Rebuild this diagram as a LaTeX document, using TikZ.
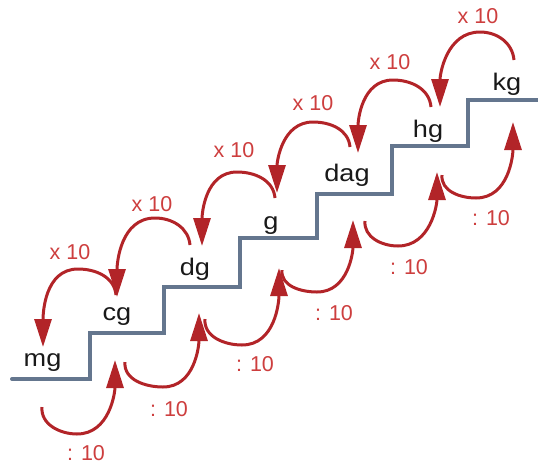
\documentclass[tikz,border=0pt]{standalone}
\usepackage{fontspec}
\setmainfont{Liberation Sans}
\usetikzlibrary{arrows.meta}
\definecolor{arcred}{RGB}{178,36,40}
\definecolor{txtred}{RGB}{205,62,62}
\definecolor{stairc}{RGB}{100,118,142}
\definecolor{unitc}{RGB}{25,25,25}
\tikzset{
  stairline/.style={draw=stairc,line width=4pt,line cap=round,line join=miter},
  unitlab/.style={anchor=base,inner sep=0pt,text=unitc,font=\fontsize{24}{24}\selectfont},
  redlab/.style={inner sep=0pt,text=txtred,font=\fontsize{21.5}{21.5}\selectfont},
  convarc/.style={draw=arcred,line width=3pt,-{Triangle[length=28pt,width=17pt]}}
}
\begin{document}
\begin{tikzpicture}[x=1pt,y=-1pt]
\useasboundingbox (0,0) rectangle (538,464);
% staircase
\draw[stairline] (12,379) -- (90,379) -- (90,333) -- (164,333) -- (164,287)
  -- (240,287) -- (240,238) -- (317,238) -- (317,194) -- (392,194)
  -- (392,146) -- (468,146) -- (468,100) -- (538,100);
% unit labels
\node[unitlab] (mg)  at (42.5,366) {\scalebox{1.13}[1]{mg}};
\node[unitlab] (cg)  at (117,320)  {\scalebox{1.13}[1]{cg}};
\node[unitlab] (dg)  at (195,275)  {\scalebox{1.13}[1]{dg}};
\node[unitlab] (g)   at (271,229)  {\scalebox{1.13}[1]{g}};
\node[unitlab] (dag) at (347,181)  {\scalebox{1.13}[1]{dag}};
\node[unitlab] (hg)  at (428,137)  {\scalebox{1.13}[1]{hg}};
\node[unitlab] (kg)  at (507,90)   {\scalebox{1.13}[1]{kg}};
% upper arcs: x 10
\foreach \sx/\sy/\mx/\my/\tx/\ty/\lx/\ly [count=\i] in {
  116/295/78/269/43/347/70/252,
  190/245/155/218/117/297/152/204,
  275/198/237/172/202/246/234/150,
  350/147/313/122/277/193/313/103,
  431/107/393/80/358/153/390/62,
  514/60/480/32/440/107/478/16}{
  \coordinate (us\i) at (\sx,\sy);
  \coordinate (um\i) at (\mx,\my);
  \coordinate (ue\i) at (\tx,\ty);
  \draw[convarc] (us\i) to[out=95,in=0] (um\i) to[out=180,in=90] (ue\i);
  \node[redlab] (ul\i) at (\lx,\ly) {x 10};
}
% lower arcs: : 10
\foreach \sx/\sy/\mx/\my/\tx/\ty/\lx/\ly [count=\i] in {
  42/407/77/434/115/360/86/453,
  125/362/163/387/199/313/169/409,
  205/319/242/345/279/268/255/364,
  282/270/317/292/353/220/334/313,
  365/221/398/246/437/172/409/267,
  442/175/476/198/513/122/491/218}{
  \coordinate (ls\i) at (\sx,\sy);
  \coordinate (lm\i) at (\mx,\my);
  \coordinate (le\i) at (\tx,\ty);
  \draw[convarc] (ls\i) to[out=-95,in=180] (lm\i) to[out=0,in=-90] (le\i);
  \node[redlab] (ll\i) at (\lx,\ly) {: 10};
}
\end{tikzpicture}
\end{document}
